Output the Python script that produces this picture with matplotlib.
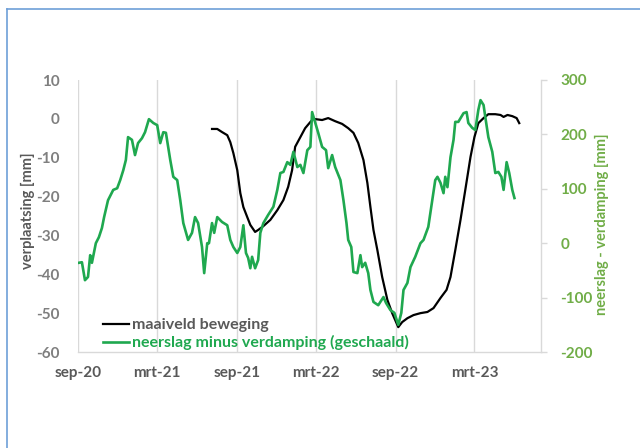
import matplotlib
matplotlib.use("Agg")
import matplotlib.pyplot as plt
from matplotlib.lines import Line2D
import pandas as pd

# ---- data ----
g_dates = ["2020-09-03","2020-09-10","2020-09-17","2020-09-24","2020-09-29","2020-10-03","2020-10-12","2020-10-19","2020-10-26","2020-10-31",
           "2020-11-09","2020-11-21","2020-11-30","2020-12-07","2020-12-14","2020-12-20","2020-12-25","2021-01-03","2021-01-10","2021-01-17",
           "2021-01-26","2021-02-02","2021-02-11","2021-02-21","2021-03-02","2021-03-09","2021-03-16","2021-03-22","2021-04-01","2021-04-08",
           "2021-04-17","2021-04-24","2021-05-01","2021-05-12","2021-05-21","2021-05-28","2021-06-04","2021-06-13","2021-06-18","2021-06-25",
           "2021-06-29","2021-07-06","2021-07-11","2021-07-18","2021-07-29","2021-08-10","2021-08-17","2021-08-24","2021-09-02","2021-09-09",
           "2021-09-16","2021-09-22","2021-09-27","2021-10-02","2021-10-06","2021-10-13","2021-10-20","2021-10-25","2021-11-01","2021-11-12",
           "2021-11-24","2021-12-03","2021-12-10","2021-12-17","2021-12-26","2022-01-02","2022-01-09","2022-01-18","2022-01-25","2022-02-01",
           "2022-02-10","2022-02-17","2022-02-21","2022-03-02","2022-03-07","2022-03-16","2022-03-25","2022-03-30","2022-04-08","2022-04-15",
           "2022-04-27","2022-05-04","2022-05-11","2022-05-15","2022-05-22","2022-05-27","2022-06-05","2022-06-12","2022-06-16","2022-06-23",
           "2022-06-30","2022-07-05","2022-07-12","2022-07-23","2022-08-04","2022-08-10","2022-08-20","2022-08-29","2022-09-07","2022-09-14",
           "2022-09-19","2022-09-28","2022-10-05","2022-10-16","2022-10-28","2022-11-04","2022-11-15","2022-11-24","2022-12-01","2022-12-06",
           "2022-12-13","2022-12-20","2022-12-24","2022-12-29","2023-01-05","2023-01-12","2023-01-16","2023-01-23","2023-02-04","2023-02-11",
           "2023-02-15","2023-02-24","2023-03-03","2023-03-10","2023-03-15","2023-03-22","2023-03-26","2023-04-02","2023-04-11","2023-04-18",
           "2023-04-25","2023-05-02","2023-05-07","2023-05-14","2023-05-20","2023-05-27","2023-06-01"]
g_vals = [-36,-35,-68,-62,-22,-36,0,11,28,48,
          79,98,101,116,134,153,195,190,162,184,
          193,204,228,221,217,184,204,203,153,122,
          116,79,37,6,19,48,37,-7,-55,0,
          0,37,19,48,39,33,6,-7,-18,-7,
          33,-18,-27,-46,-25,-46,-31,19,37,52,
          67,98,129,131,149,144,168,140,144,129,
          171,177,241,217,203,177,171,138,162,140,
          116,79,37,6,-7,-53,-55,-22,-44,-36,
          -55,-86,-108,-114,-99,-110,-123,-128,-150,-128,
          -86,-73,-44,-25,0,6,30,79,116,122,
          111,92,122,103,158,190,223,223,239,241,
          221,212,208,245,263,254,232,195,168,129,
          131,122,98,149,129,98,83]

b_dates = ["2021-07-06","2021-07-18","2021-07-29","2021-08-10","2021-08-17","2021-08-24","2021-09-02","2021-09-09","2021-09-16","2021-09-25",
           "2021-10-02","2021-10-13","2021-10-20","2021-11-01","2021-11-17","2021-12-03","2021-12-17","2021-12-28","2022-01-06","2022-01-13",
           "2022-01-25","2022-02-05","2022-02-17","2022-02-24","2022-03-16","2022-03-30","2022-04-15","2022-05-01","2022-05-15","2022-05-27",
           "2022-06-07","2022-06-19","2022-06-28","2022-07-05","2022-07-12","2022-07-21","2022-08-01","2022-08-13","2022-08-24","2022-09-07",
           "2022-09-16","2022-09-28","2022-10-12","2022-10-28","2022-11-13","2022-11-27","2022-12-13","2022-12-27","2023-01-05","2023-01-16",
           "2023-01-28","2023-02-08","2023-02-20","2023-03-01","2023-03-10","2023-03-22","2023-04-02","2023-04-18","2023-04-30","2023-05-07",
           "2023-05-16","2023-05-27","2023-06-06","2023-06-12"]
b_vals = [-2.6,-2.6,-3.4,-4.2,-6.0,-8.8,-13.2,-19.1,-22.7,-25.3,
          -27.3,-29.1,-28.6,-27.6,-26.0,-23.5,-20.9,-17.5,-13.2,-7.2,
          -4.7,-2.4,-0.8,0.0,-0.3,0.2,-0.6,-1.3,-2.4,-3.6,
          -6.2,-10.6,-16.5,-22.7,-28.6,-33.8,-40.7,-46.6,-50.0,-53.6,
          -52.3,-51.3,-50.5,-50.0,-49.7,-48.7,-46.1,-44.0,-40.7,-33.8,
          -26.0,-18.3,-9.8,-4.7,-1.1,0.2,1.2,1.2,1.0,0.5,
          1.0,0.7,0.2,-1.1]

tick_dates = ["2020-09-01","2021-03-01","2021-09-01","2022-03-01","2022-09-01","2023-03-01"]
tick_labels = ["sep-20","mrt-21","sep-21","mrt-22","sep-22","mrt-23"]
x_range = ["2020-09-01","2023-08-01"]
left_ticks = [10, 0, -10, -20, -30, -40, -50, -60]
right_ticks = [300, 200, 100, 0, -100, -200]

label_black = "maaiveld beweging"
label_green = "neerslag minus verdamping (geschaald)"
ylabel_left = "verplaatsing [mm]"
ylabel_right = "neerslag - verdamping [mm]"

# ---- style ----
FONT = ["Lato", "DejaVu Sans"]
plt.rcParams['font.family'] = FONT
plt.rcParams['font.weight'] = 'bold'
plt.rcParams['axes.unicode_minus'] = False
GREEN_LINE = "#1FA84F"
GREEN_AX = "#70AD47"
GREY_TXT = "#595959"
GREY_TICK = "#7F7F7F"
GRID = "#D9D9D9"

fig = plt.figure(figsize=(6.4, 4.48), dpi=100)
W, H = 640, 448
ax = fig.add_axes([78 / W, 1 - 352 / H, (541 - 78) / W, (352 - 80) / H])
ax2 = ax.twinx()

gd = pd.to_datetime(g_dates)
bd = pd.to_datetime(b_dates)

l1, = ax.plot(bd, b_vals, color="black", lw=1.6, label=label_black, zorder=3)
l2, = ax2.plot(gd, g_vals, color=GREEN_LINE, lw=1.9, label=label_green, zorder=3)

ax.set_xlim(pd.to_datetime(x_range[0]), pd.to_datetime(x_range[1]))
ax.set_ylim(-60, 10)
ax2.set_ylim(-200, 300)
ax.set_yticks(left_ticks)
ax2.set_yticks(right_ticks)
ax.set_xticks(pd.to_datetime(tick_dates))
ax.set_xticklabels(tick_labels)

ax.grid(axis="x", color=GRID, lw=1.0)
ax.set_axisbelow(True)

ax.spines["top"].set_visible(False)
ax2.spines["top"].set_visible(False)
ax.spines["left"].set_visible(False)
ax.spines["right"].set_visible(False)
ax2.spines["left"].set_visible(False)
ax.spines["bottom"].set_color(GRID)
ax.spines["bottom"].set_linewidth(1.0)
ax2.spines["bottom"].set_visible(False)
ax2.spines["right"].set_color(GRID)
ax2.spines["right"].set_linewidth(1.0)

ax.tick_params(axis="y", length=0, pad=13, labelsize=11, labelcolor=GREY_TICK)
ax.tick_params(axis="x", length=0, pad=10, labelsize=11, labelcolor=GREY_TXT)
ax2.tick_params(axis="y", length=4, width=1, color=GRID, pad=10, labelsize=11, labelcolor=GREEN_AX)

ax.set_ylabel(ylabel_left, fontsize=10.5, color=GREY_TXT, fontweight="bold")
ax.yaxis.set_label_coords(-0.093, 0.52)
ax2.set_ylabel(ylabel_right, fontsize=10.5, color=GREEN_AX, fontweight="bold")
ax2.yaxis.set_label_coords(1.117, 0.47)

leg = ax.legend([l1, l2], [label_black, label_green], loc="upper left",
                bbox_to_anchor=(103 / W, 1 - 318 / H), bbox_transform=fig.transFigure,
                frameon=False, fontsize=11.5, handlelength=1.6, handletextpad=0.2,
                labelspacing=0.2, borderpad=0, borderaxespad=0)
leg.get_texts()[0].set_color(GREY_TXT)
leg.get_texts()[1].set_color(GREEN_LINE)
leg.set_zorder(5)

# frame of the surrounding box (only top and left edges visible)
FRAME = "#6E9FD8"
fig.add_artist(Line2D([7 / W, 7 / W], [0, 1 - 9 / H], color=FRAME, lw=1.2, transform=fig.transFigure))
fig.add_artist(Line2D([7 / W, 1], [1 - 9 / H, 1 - 9 / H], color=FRAME, lw=1.2, transform=fig.transFigure))

fig.savefig("out.png", dpi=100, facecolor="white")
